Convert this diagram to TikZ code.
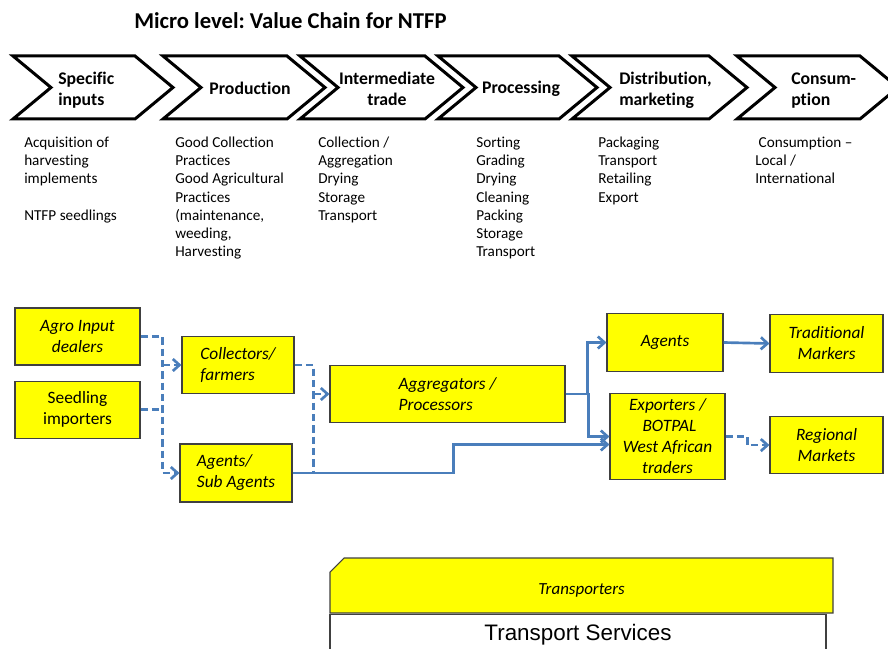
\documentclass[tikz,border=0pt]{standalone}
\usepackage{fontspec}
\setmainfont[Ligatures=NoCommon]{Carlito}
\newfontfamily\arialfont{Liberation Sans}
\usetikzlibrary{arrows.meta,positioning,shapes.misc}
\definecolor{linkblue}{RGB}{74,126,187}
\definecolor{boxyellow}{RGB}{255,255,0}
\frenchspacing
\begin{document}
\begin{tikzpicture}[x=0.75pt,y=-0.75pt,
    box/.style={draw=black!75,line width=0.8pt,fill=boxyellow,inner sep=0pt,
      font=\fontsize{13}{15.75}\selectfont\itshape},
    upright/.style={font=\fontsize{13}{15.75}\selectfont},
    stage/.style={draw,line width=2.25pt,line join=miter},
    stagetext/.style={inner sep=0pt,font=\fontsize{13.3}{15.75}\selectfont\bfseries},
    list/.style={anchor=north west,align=left,inner sep=0pt,
      font=\fontsize{11.4}{13.7}\selectfont},
    link/.style={draw=linkblue,line width=2pt},
    dlink/.style={link,dash pattern=on 5.5pt off 3pt},
    linkhead/.style={-{Straight Barb[length=5pt,width=9pt]}}]
  \useasboundingbox (0,0) rectangle (888,649);

  \path (134,20.5) node[anchor=west,inner sep=0pt,font=\fontsize{17}{20}\selectfont\bfseries] (TT) {Micro level: Value Chain for NTFP};

  % stages
  \draw[stage] (13,56) -- (135,56) -- (173,87.5) -- (135,119) -- (13,119) -- (51,87.5) -- cycle;
  \draw[stage] (163,56) -- (287,56) -- (325,87.5) -- (287,119) -- (163,119) -- (201,87.5) -- cycle;
  \draw[stage] (300,56) -- (425,56) -- (463,87.5) -- (425,119) -- (300,119) -- (338,87.5) -- cycle;
  \draw[stage] (438,56) -- (559,56) -- (597,87.5) -- (559,119) -- (438,119) -- (476,87.5) -- cycle;
  \draw[stage] (572,56) -- (709,56) -- (747,87.5) -- (709,119) -- (572,119) -- (610,87.5) -- cycle;
  \draw[stage] (737,56) -- (860,56) -- (898,87.5) -- (860,119) -- (737,119) -- (775,87.5) -- cycle;
  \path (58,90) node[stagetext,anchor=west,align=left] (S1) {Specific\\inputs};
  \path (250,88) node[stagetext] (S2) {Production};
  \path (387,89) node[stagetext,align=center] (S3) {Intermediate\\trade};
  \path (521,88.5) node[stagetext] (S4) {Processing};
  \path (619,90) node[stagetext,anchor=west,align=left] (S5) {Distribution,\\marketing};
  \path (791,91) node[stagetext,anchor=west,align=left] (S6) {Consum-\\ption};

  % activities
  \path (24,136.5) node[list] (L1) {Acquisition of\\harvesting\\implements\\[13.7pt]NTFP seedlings};
  \path (175,136.5) node[list] (L2) {Good Collection\\Practices\\Good Agricultural\\Practices\\(maintenance,\\weeding,\\Harvesting};
  \path (318,136.5) node[list] (L3) {Collection /\\Aggregation\\Drying\\Storage\\Transport};
  \path (476,136.5) node[list] (L4) {Sorting\\Grading\\Drying\\Cleaning\\Packing\\Storage\\Transport};
  \path (598,136.5) node[list] (L5) {Packaging\\Transport\\Retailing\\Export};
  \path (755,136.5) node[list] (L6) {\ Consumption --\\Local /\\International};

  % actors
  \path (77.5,336.5) node[box,minimum width=93.75pt,minimum height=42.75pt,align=center] (AI) {Agro Input\\dealers};
  \path node[box,upright,minimum width=93.75pt,minimum height=42.75pt,align=center,below=11.25pt of AI] (SI) {Seedling\\importers};
  \path (238,365) node[box,minimum width=84pt,minimum height=42.75pt,align=left] (CF) {Collectors/\\farmers};
  \path (236,473) node[box,minimum width=84pt,minimum height=43.5pt,align=left] (SA) {Agents/\\Sub Agents};
  \path (447.5,394) node[box,minimum width=176.25pt,minimum height=42.75pt,align=left] (AP) {Aggregators /\\Processors};
  \path (665,342.5) node[box,minimum width=87pt,minimum height=43.5pt] (AG) {Agents};
  \path (667.5,436.5) node[box,minimum width=86.25pt,minimum height=64.5pt,align=center] (EX) {Exporters /\\ \ BOTPAL\\West African\\traders};
  \path (826.5,343.5) node[box,minimum width=84.75pt,minimum height=43.5pt,align=center] (TM) {Traditional\\Markers};
  \path node[box,minimum width=84.75pt,minimum height=42.75pt,align=center,below=32.25pt of TM] (RM) {Regional\\Markets};

  % transport
  \path (578,634.5) node[draw=black!75,line width=0.8pt,minimum width=372pt,minimum height=30pt,inner sep=0pt,
    font=\arialfont\fontsize{16.8}{20}\selectfont] (TS) {Transport Services};
  \path (581.5,585.5) node[box,chamfered rectangle,chamfered rectangle corners=north west,
    chamfered rectangle xsep=5.25pt,chamfered rectangle ysep=5.25pt,text height=14pt,text depth=1pt,
    minimum width=377.25pt,minimum height=41.25pt,font=\fontsize{12.7}{15}\selectfont\itshape] (TR) {Transporters};

  % flows
  \draw[dlink,linkhead] (AI.east) -- ++(22,0) coordinate (J1) |- (SA.west);
  \draw[dlink] (SI.east) -- (SI.east -| J1);
  \draw[dlink,linkhead] (J1 |- CF.west) -- (CF.west);
  \draw[dlink] (CF.east) -- ++(19,0) coordinate (J2) -- (J2 |- SA.east);
  \draw[dlink,linkhead] (J2 |- AP.west) -- (AP.west);
  \draw[link,linkhead] (SA.east) -- ++(161,0) |- ([yshift=-6pt]EX.west);
  \draw[link,linkhead] (AP.east) -- ++(22,0) |- (AG.west);
  \draw[link,linkhead] (AP.east) -- ++(23,0) |- (EX.west);
  \draw[link,linkhead] (AG.east) -- (TM.west);
  \draw[dlink,linkhead] (EX.east) -- ++(22,0) |- (RM.west);
\end{tikzpicture}
\end{document}
